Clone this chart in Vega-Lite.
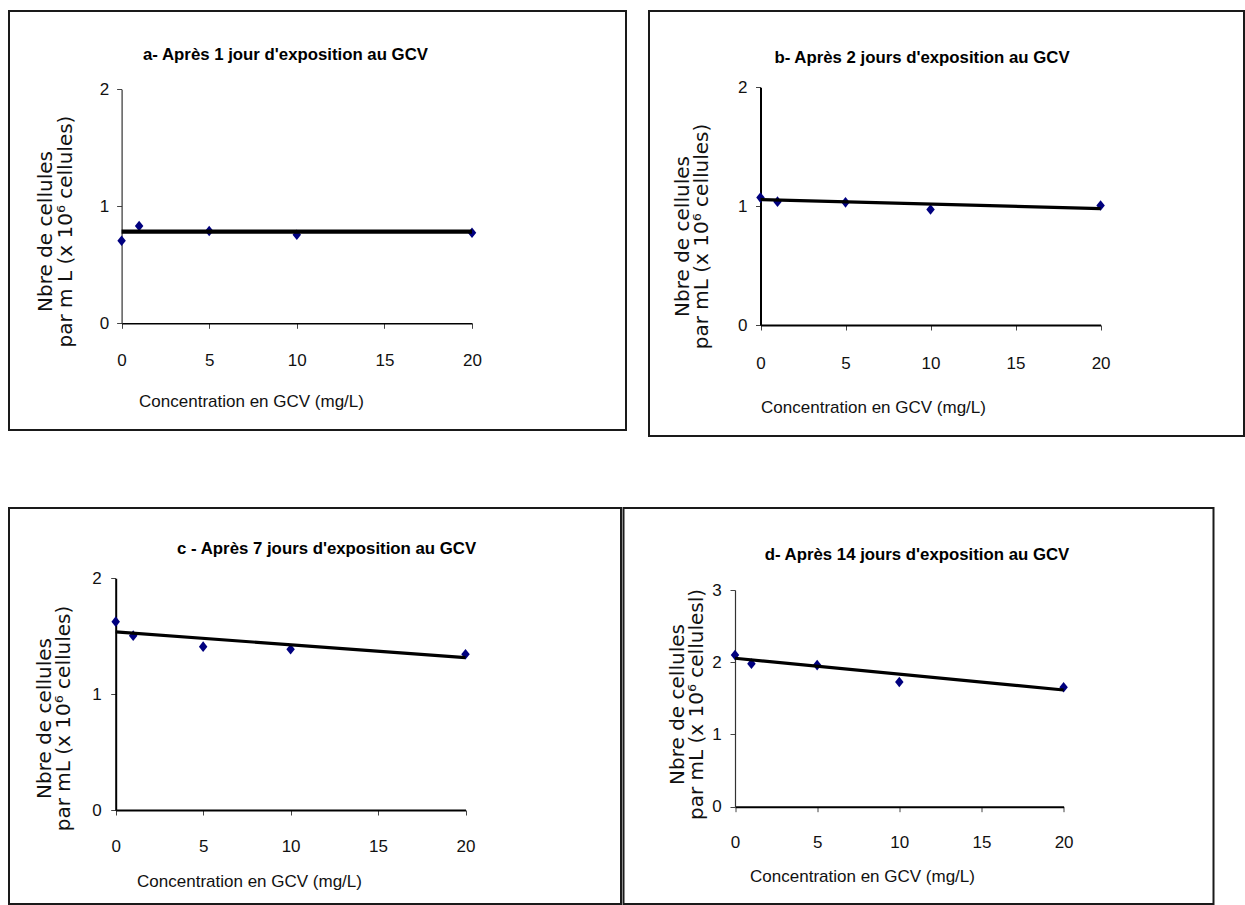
{
  "$schema": "https://vega.github.io/schema/vega-lite/v6.json",
  "background": "white",
  "padding": {"left": 8, "top": 10, "right": 0, "bottom": 0},
  "autosize": {"type": "pad"},
  "config": {
    "view": {"stroke": "#1a1a1a", "strokeWidth": 2},
    "axis": {"grid": false, "labelFlush": false, "labelOverlap": false, "format": "d", "domainColor": "#000", "tickColor": "#444", "tickSize": 5, "labelColor": "#111", "titleColor": "#111", "titleFontWeight": "normal", "labelFont": "Liberation Sans, Arial, sans-serif", "labelFontSize": 17, "titleFont": "Liberation Sans, Arial, sans-serif", "titleFontSize": 17},
    "title": {"font": "Liberation Sans, Arial, sans-serif", "fontSize": 16.8, "fontWeight": "bold", "color": "#000", "anchor": "middle", "frame": "group", "baseline": "alphabetic"}
  },
  "datasets": {
    "pts": [
      {"panel": "a", "x": 0, "y": 0.706}, {"panel": "a", "x": 1, "y": 0.832}, {"panel": "a", "x": 5, "y": 0.789}, {"panel": "a", "x": 10, "y": 0.757}, {"panel": "a", "x": 20, "y": 0.774},
      {"panel": "b", "x": 0, "y": 1.072}, {"panel": "b", "x": 1, "y": 1.038}, {"panel": "b", "x": 5, "y": 1.032}, {"panel": "b", "x": 10, "y": 0.972}, {"panel": "b", "x": 20, "y": 1.005},
      {"panel": "c", "x": 0, "y": 1.626}, {"panel": "c", "x": 1, "y": 1.505}, {"panel": "c", "x": 5, "y": 1.41}, {"panel": "c", "x": 10, "y": 1.388}, {"panel": "c", "x": 20, "y": 1.345},
      {"panel": "d", "x": 0, "y": 2.1}, {"panel": "d", "x": 1, "y": 1.98}, {"panel": "d", "x": 5, "y": 1.96}, {"panel": "d", "x": 10, "y": 1.727}, {"panel": "d", "x": 20, "y": 1.654}
    ],
    "trend": [
      {"panel": "a", "x": 0, "y": 0.783}, {"panel": "a", "x": 20, "y": 0.783},
      {"panel": "b", "x": 0, "y": 1.056}, {"panel": "b", "x": 20, "y": 0.98},
      {"panel": "c", "x": 0, "y": 1.537}, {"panel": "c", "x": 20, "y": 1.315},
      {"panel": "d", "x": 0, "y": 2.055}, {"panel": "d", "x": 20, "y": 1.616}
    ]
  },
  "spacing": 70,
  "vconcat": [
    {
      "bounds": "flush",
      "spacing": 23,
      "hconcat": [
        {
          "width": 617, "height": 419,
          "title": {"text": "a- Après 1 jour d'exposition au GCV", "offset": -52.3, "dx": -32},
          "layer": [
            {
              "data": {"name": "pts"},
              "transform": [{"filter": "datum.panel === 'a'"}],
              "mark": {"type": "point", "shape": "M-1,0L0,-1.25L1,0L0,1.25Z", "filled": true, "color": "#00007f", "size": 72, "opacity": 1},
              "encoding": {
                "x": {"field": "x", "type": "quantitative", "scale": {"domain": [0, 20], "range": [112.6, 463], "nice": false, "zero": false},
                  "axis": {"values": [0, 5, 10, 15, 20], "title": "Concentration en GCV (mg/L)", "offset": -106.7, "domainWidth": 1.5, "labelPadding": 24.1, "titleX": 242, "titleY": 69.8, "titleBaseline": "top", "titleAlign": "center"}},
                "y": {"field": "y", "type": "quantitative", "scale": {"domain": [0, 2], "range": [312.3, 78.3], "nice": false, "zero": false},
                  "axis": {"values": [0, 1, 2], "title": ["Nbre de cellules", "par m L (x 10⁶ cellules)"], "offset": -112.6, "domainWidth": 1.2, "domainColor": "#333", "labelPadding": 8, "titleFont": "DejaVu Sans", "titleFontSize": 20, "titleLineHeight": 19.5, "titleAngle": 270, "titleX": -76, "titleY": 220, "titleBaseline": "middle", "titleAlign": "center"}}
              }
            },
            {
              "data": {"name": "trend"},
              "transform": [{"filter": "datum.panel === 'a'"}],
              "mark": {"type": "line", "color": "#000", "strokeWidth": 4.3},
              "encoding": {"x": {"field": "x", "type": "quantitative"}, "y": {"field": "y", "type": "quantitative"}}
            }
          ]
        },
        {
          "width": 595, "height": 425,
          "title": {"text": "b- Après 2 jours d'exposition au GCV", "offset": -56, "dx": -24.5},
          "layer": [
            {
              "data": {"name": "pts"},
              "transform": [{"filter": "datum.panel === 'b'"}],
              "mark": {"type": "point", "shape": "M-1,0L0,-1.25L1,0L0,1.25Z", "filled": true, "color": "#00007f", "size": 72, "opacity": 1},
              "encoding": {
                "x": {"field": "x", "type": "quantitative", "scale": {"domain": [0, 20], "range": [111.5, 451.6], "nice": false, "zero": false},
                  "axis": {"values": [0, 5, 10, 15, 20], "title": "Concentration en GCV (mg/L)", "offset": -111, "domainWidth": 2, "labelPadding": 25.8, "titleX": 224, "titleY": 74.8, "titleBaseline": "top", "titleAlign": "center"}},
                "y": {"field": "y", "type": "quantitative", "scale": {"domain": [0, 2], "range": [314, 76.3], "nice": false, "zero": false},
                  "axis": {"values": [0, 1, 2], "title": ["Nbre de cellules", "par mL (x 10⁶ cellules)"], "offset": -111.5, "domainWidth": 2, "labelPadding": 8.5, "titleFont": "DejaVu Sans", "titleFontSize": 20, "titleLineHeight": 19, "titleAngle": 270, "titleX": -78.3, "titleY": 225, "titleBaseline": "middle", "titleAlign": "center"}}
              }
            },
            {
              "data": {"name": "trend"},
              "transform": [{"filter": "datum.panel === 'b'"}],
              "mark": {"type": "line", "color": "#000", "strokeWidth": 3.3},
              "encoding": {"x": {"field": "x", "type": "quantitative"}, "y": {"field": "y", "type": "quantitative"}}
            }
          ]
        }
      ]
    },
    {
      "bounds": "flush",
      "spacing": 2.5,
      "hconcat": [
        {
          "width": 612, "height": 396,
          "title": {"text": "c - Après 7 jours d'exposition au GCV", "offset": -49.3, "dx": 11.6},
          "layer": [
            {
              "data": {"name": "pts"},
              "transform": [{"filter": "datum.panel === 'c'"}],
              "mark": {"type": "point", "shape": "M-1,0L0,-1.25L1,0L0,1.25Z", "filled": true, "color": "#00007f", "size": 72, "opacity": 1},
              "encoding": {
                "x": {"field": "x", "type": "quantitative", "scale": {"domain": [0, 20], "range": [106.7, 456.5], "nice": false, "zero": false},
                  "axis": {"values": [0, 5, 10, 15, 20], "title": "Concentration en GCV (mg/L)", "offset": -94, "domainWidth": 2, "labelPadding": 23.1, "titleX": 240, "titleY": 63.1, "titleBaseline": "top", "titleAlign": "center"}},
                "y": {"field": "y", "type": "quantitative", "scale": {"domain": [0, 2], "range": [302, 70.3], "nice": false, "zero": false},
                  "axis": {"values": [0, 1, 2], "title": ["Nbre de cellules", "par mL (x 10⁶ cellules)"], "offset": -106.7, "domainWidth": 2, "labelPadding": 9.5, "titleFont": "DejaVu Sans", "titleFontSize": 20, "titleLineHeight": 19, "titleAngle": 270, "titleX": -71.7, "titleY": 210, "titleBaseline": "middle", "titleAlign": "center"}}
              }
            },
            {
              "data": {"name": "trend"},
              "transform": [{"filter": "datum.panel === 'c'"}],
              "mark": {"type": "line", "color": "#000", "strokeWidth": 3.2},
              "encoding": {"x": {"field": "x", "type": "quantitative"}, "y": {"field": "y", "type": "quantitative"}}
            }
          ]
        },
        {
          "width": 590, "height": 396,
          "title": {"text": "d- Après 14 jours d'exposition au GCV", "offset": -55.3, "dx": -1.5},
          "layer": [
            {
              "data": {"name": "pts"},
              "transform": [{"filter": "datum.panel === 'd'"}],
              "mark": {"type": "point", "shape": "M-1,0L0,-1.25L1,0L0,1.25Z", "filled": true, "color": "#00007f", "size": 72, "opacity": 1},
              "encoding": {
                "x": {"field": "x", "type": "quantitative", "scale": {"domain": [0, 20], "range": [111.5, 440.1], "nice": false, "zero": false},
                  "axis": {"values": [0, 5, 10, 15, 20], "title": "Concentration en GCV (mg/L)", "offset": -97.3, "domainWidth": 2, "labelPadding": 23.1, "titleX": 238.5, "titleY": 61.4, "titleBaseline": "top", "titleAlign": "center"}},
                "y": {"field": "y", "type": "quantitative", "scale": {"domain": [0, 3], "range": [298.7, 82], "nice": false, "zero": false},
                  "axis": {"values": [0, 1, 2, 3], "title": ["Nbre de cellules", "par mL (x 10⁶ cellulesl)"], "offset": -111.5, "domainWidth": 1.2, "domainColor": "#333", "labelPadding": 8.8, "titleFont": "DejaVu Sans", "titleFontSize": 20, "titleLineHeight": 19, "titleAngle": 270, "titleX": -57.1, "titleY": 196, "titleBaseline": "middle", "titleAlign": "center"}}
              }
            },
            {
              "data": {"name": "trend"},
              "transform": [{"filter": "datum.panel === 'd'"}],
              "mark": {"type": "line", "color": "#000", "strokeWidth": 3.2},
              "encoding": {"x": {"field": "x", "type": "quantitative"}, "y": {"field": "y", "type": "quantitative"}}
            }
          ]
        }
      ]
    }
  ]
}
